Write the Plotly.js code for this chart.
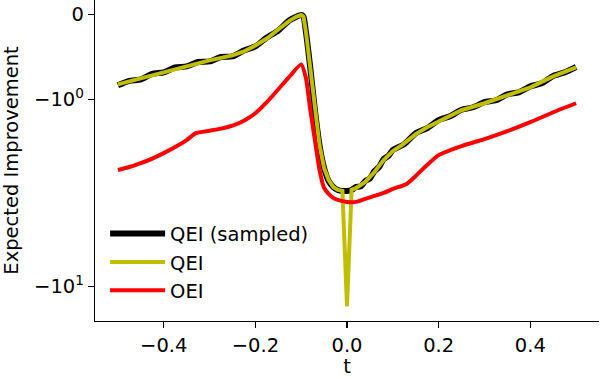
<!DOCTYPE html>
<html>
<head>
<meta charset="utf-8">
<script src="https://cdn.plot.ly/plotly-3.0.1.min.js"></script>
<style>
  html, body { margin: 0; padding: 0; background: #fff; }
  #chart { width: 600px; height: 378px; }
</style>
</head>
<body>
<div id="chart"></div>
<script>
// values
const tQei = [-0.5, -0.45, -0.4, -0.35, -0.3, -0.25, -0.225, -0.2, -0.175, -0.15, -0.125, -0.11, -0.1, -0.095, -0.09,
  -0.08, -0.07, -0.06, -0.05, -0.04, -0.03, -0.02, -0.01, 0, 0.01, 0.02, 0.04, 0.06, 0.08,
  0.1, 0.12, 0.15, 0.175, 0.2, 0.25, 0.3, 0.35, 0.4, 0.45, 0.5];
const qei = [-0.824, -0.753, -0.671, -0.6, -0.541, -0.482, -0.435, -0.365, -0.282, -0.176, -0.071, -0.024, -0.005, -0.024, -0.188,
  -0.635, -1.144, -1.757, -2.328, -2.697, -2.938, -3.048, -3.085, -12.77, -3.048, -2.975, -2.764, -2.445, -2.111,
  -1.89, -1.757, -1.535, -1.409, -1.309, -1.144, -1.05, -0.953, -0.859, -0.729, -0.624];

const tSampled = [-0.5, -0.475, -0.45, -0.425, -0.4, -0.375, -0.35, -0.325, -0.3, -0.275, -0.25, -0.225,
  -0.2, -0.175, -0.15, -0.125, -0.1, -0.095, -0.09, -0.08, -0.07, -0.06, -0.05, -0.04, -0.03, -0.02,
  -0.01, 0, 0.01, 0.02, 0.03, 0.04, 0.05, 0.06, 0.07, 0.08, 0.09, 0.1, 0.125, 0.15, 0.175, 0.2,
  0.225, 0.25, 0.275, 0.3, 0.325, 0.35, 0.375, 0.4, 0.425, 0.45, 0.475, 0.5];
const qeiSampled = [-0.835, -0.782, -0.765, -0.7, -0.682, -0.624, -0.612, -0.559, -0.553, -0.5, -0.494, -0.424,
  -0.376, -0.271, -0.188, -0.065, -0.005, -0.024, -0.188, -0.635, -1.144, -1.757, -2.328, -2.731, -2.938, -3.048,
  -3.085, -3.085, -3.048, -2.938, -2.92, -2.731, -2.648, -2.415, -2.3, -2.085, -2.01, -1.867, -1.735, -1.517, -1.427, -1.293,
  -1.231, -1.137, -1.103, -1.037, -1.012, -0.941, -0.918, -0.847, -0.812, -0.724, -0.682, -0.618];

const tOei = [-0.5, -0.475, -0.45, -0.425, -0.4, -0.375, -0.35, -0.33, -0.3, -0.275, -0.25, -0.225, -0.2, -0.175,
  -0.15, -0.125, -0.1, -0.09, -0.08, -0.07, -0.06, -0.05, -0.04, -0.03, -0.02, 0, 0.02, 0.04, 0.06, 0.08, 0.1, 0.13,
  0.15, 0.17, 0.2, 0.25, 0.3, 0.35, 0.4, 0.45, 0.5];
const oei = [-2.386, -2.3, -2.19, -2.073, -1.938, -1.8, -1.652, -1.517, -1.471, -1.435, -1.384, -1.301, -1.187, -1.037,
  -0.882, -0.729, -0.588, -0.741, -1.144, -1.652, -2.386, -2.975, -3.201, -3.362, -3.445, -3.531, -3.531, -3.403, -3.281, -3.163, -3.011, -2.832,
  -2.568, -2.3, -1.986, -1.778, -1.632, -1.48, -1.325, -1.173, -1.05];

const yTickValues = [0, -1, -10];
const yTickLabels = ["0", "\u221210<sup>0</sup>", "\u221210<sup>1</sup>"];
const xTickValues = [-0.4, -0.2, 0, 0.2, 0.4];
const xTickLabels = ["\u22120.4", "\u22120.2", "0.0", "0.2", "0.4"];

// plotly has no symlog axis, so squash the values onto one by hand
const linScale = 85 / 188;
function symlog(v) {
  if (Math.abs(v) <= 1) return v * linScale;
  return Math.sign(v) * (linScale + Math.log10(Math.abs(v)));
}

function make_trace(x, y, name, color, width, shape) {
  return {
    x,
    y: y.map(symlog),
    name,
    type: 'scatter',
    mode: 'lines',
    line: { color, width, shape, smoothing: 0.6 },
  };
}

const data = [
  make_trace(tSampled, qeiSampled, "QEI (sampled)", "#000000", 6, "spline"),
  make_trace(tQei, qei, "QEI", "#bfbf00", 4, "linear"),
  make_trace(tOei, oei, "OEI", "#ff0000", 4, "spline"),
];

const font = { family: "DejaVu Sans", size: 19.5, color: "#000" };

const layout = {
  width: 600,
  height: 378,
  margin: { l: 95, r: 1, t: 0, b: 57 },
  paper_bgcolor: "#fff",
  plot_bgcolor: "#fff",
  font,
  showlegend: true,
  legend: {
    x: 0.02, y: 0.332, xanchor: "left", yanchor: "top",
    bgcolor: "rgba(255,255,255,0)",
    itemwidth: 55,
    font,
  },
  xaxis: {
    range: [-0.55, 0.55],
    tickvals: xTickValues,
    ticktext: xTickLabels,
    ticks: "outside", ticklen: 6, tickwidth: 1.2, tickcolor: "#000",
    showline: true, linecolor: "#000", linewidth: 1.2,
    showgrid: false, zeroline: false,
    title: { text: "t", font, standoff: 8 },
  },
  yaxis: {
    range: [-1.636, 0.078],
    tickvals: yTickValues.map(symlog),
    ticktext: yTickLabels,
    ticks: "outside", ticklen: 6, tickwidth: 1.2, tickcolor: "#000",
    showline: true, linecolor: "#000", linewidth: 1.2,
    showgrid: false, zeroline: false,
    title: { text: "Expected Improvement", font, standoff: 12 },
  },
};

Plotly.newPlot("chart", data, layout, { staticPlot: true });
</script>
</body>
</html>
